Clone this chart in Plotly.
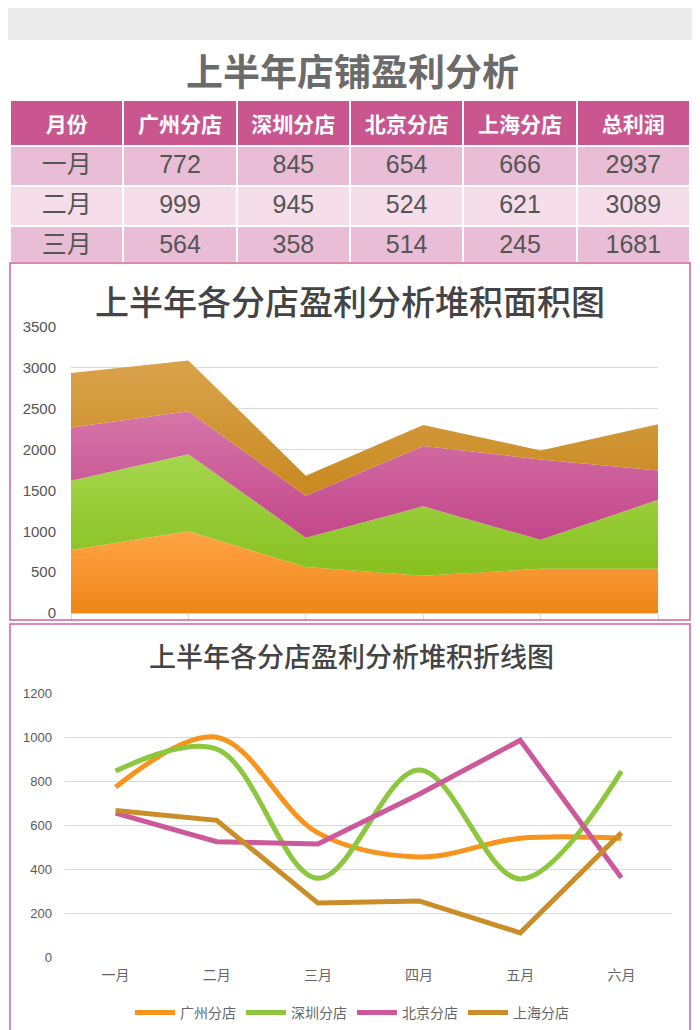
import plotly.graph_objects as go

months = ['一月', '二月', '三月', '四月', '五月', '六月']
stores = ['广州分店', '深圳分店', '北京分店', '上海分店']

guangzhou = [772, 999, 564, 455, 540, 540]
shenzhen = [845, 945, 358, 850, 355, 845]
beijing = [654, 524, 514, 740, 985, 360]
shanghai = [666, 621, 245, 255, 110, 565]

table_header = ['月份', '广州分店', '深圳分店', '北京分店', '上海分店', '总利润']
table_months = ['一月', '二月', '三月']
table_totals = [2937, 3089, 1681]

# the page body has an 8px margin, so the figure is a bit smaller and shifted
OFF = 8
W, H = 700 - OFF, 1030 - OFF
CJK = 'Noto Sans CJK SC'
NUM = 'Liberation Sans Narrow, Liberation Sans, sans-serif'

def px(x):
    return (x - OFF) / W

def py(y):
    return 1 - (y - OFF) / H

series = [guangzhou, shenzhen, beijing, shanghai]
line_colors = ['#f7941d', '#8dc63f', '#cc5a9a', '#c98e2a']
# (bottom, top) colours for the gradient fills
area_grad = [('#ee8618', '#ffa445'), ('#86c01e', '#a6d64e'),
             ('#c2468a', '#d676a8'), ('#c8891f', '#d9a34c')]

fig = go.Figure()

# ---- table -------------------------------------------------------------
cols = [table_months] + [s[:3] for s in series] + [table_totals]
row_fill = ['#e9bdd6', '#f5dde9', '#e9bdd6']
fig.add_trace(go.Table(
    domain=dict(x=[px(10), px(690)], y=[py(262), py(100)]),
    columnwidth=[1] * 6,
    header=dict(values=['<b>%s</b>' % h for h in table_header],
                fill_color='#c9568f', line=dict(color='white', width=2),
                font=dict(family=CJK, size=21, color='white'),
                align='center', height=40),
    cells=dict(values=cols,
               fill_color=[row_fill] * 6, line=dict(color='white', width=2),
               font=dict(family=[CJK] + [NUM] * 5, size=25, color='#555555'),
               align='center', height=40),
))

# ---- stacked area ------------------------------------------------------
for name, vals, (c0, c1) in zip(stores, series, area_grad):
    fig.add_trace(go.Scatter(
        x=months, y=vals, name=name, mode='lines', stackgroup='one',
        line=dict(width=0, color=c1),
        fillgradient=dict(type='vertical', colorscale=[[0, c0], [1, c1]]),
        showlegend=False, xaxis='x', yaxis='y'))

# ---- line chart --------------------------------------------------------
shapes_line = ['spline', 'spline', 'linear', 'linear']
for name, vals, col, shp in zip(stores, series, line_colors, shapes_line):
    fig.add_trace(go.Scatter(
        x=months, y=vals, name=name, mode='lines',
        line=dict(color=col, width=5, shape=shp, smoothing=1.0),
        xaxis='x2', yaxis='y2'))

grid = '#d9d9d9'
fig.update_layout(
    width=W, height=H, autosize=False,
    margin=dict(l=0, r=0, t=0, b=0, autoexpand=False),
    paper_bgcolor='white', plot_bgcolor='white',
    font=dict(family=CJK, color='#595959'),
    xaxis=dict(domain=[px(71), px(658)], type='category', range=[0, 5],
               showticklabels=False, showgrid=False, ticks='outside',
               ticklen=6, tickcolor=grid, showline=True, linecolor=grid,
               zeroline=False, anchor='y'),
    yaxis=dict(domain=[py(613), py(327)], range=[0, 3500], dtick=500,
               gridcolor=grid, zeroline=False, showline=False,
               tickfont=dict(family=NUM, size=15, color='#555555'),
               ticks='', ticklabelstandoff=14, anchor='x'),
    xaxis2=dict(domain=[px(65), px(672)], type='category', range=[-0.5, 5.5],
                showgrid=False, showline=False, zeroline=False,
                tickfont=dict(family=CJK, size=14, color='#666666'),
                ticklabelstandoff=8, anchor='y2'),
    yaxis2=dict(domain=[py(957), py(693)], range=[0, 1200], dtick=200,
                gridcolor=grid, zeroline=False, showline=False,
                tickfont=dict(family=NUM, size=13, color='#595959'),
                ticklabelstandoff=12, anchor='x2'),
    legend=dict(orientation='h', x=px(352), xanchor='center', y=py(1013),
                yanchor='middle', traceorder='normal',
                font=dict(family=CJK, size=14, color='#666666'),
                itemwidth=40, tracegroupgap=0),
    shapes=[
        dict(type='rect', xref='paper', yref='paper', x0=0, x1=1,
             y0=py(40), y1=1, fillcolor='#ebebeb', line=dict(width=0),
             layer='below'),
        dict(type='rect', xref='paper', yref='paper', x0=px(10), x1=px(690),
             y0=py(620), y1=py(263), line=dict(color='#d4609c', width=1.5)),
        dict(type='rect', xref='paper', yref='paper', x0=px(10), x1=px(690),
             y0=py(1036), y1=py(624), line=dict(color='#d4609c', width=1.5)),
    ],
    annotations=[
        dict(text='<b>上半年店铺盈利分析</b>', xref='paper', yref='paper',
             x=px(352), y=py(70), yanchor='middle', showarrow=False,
             font=dict(family=CJK, size=37, color='#6b6b6b')),
        dict(text='上半年各分店盈利分析堆积面积图', xref='paper', yref='paper',
             x=px(350), y=py(300), yanchor='middle', showarrow=False,
             font=dict(family=CJK, size=34, color='#444444', weight=500)),
        dict(text='上半年各分店盈利分析堆积折线图', xref='paper', yref='paper',
             x=px(351), y=py(655), yanchor='middle', showarrow=False,
             font=dict(family=CJK, size=27, color='#444444', weight=500)),
    ],
)

fig.write_html('out.html')
